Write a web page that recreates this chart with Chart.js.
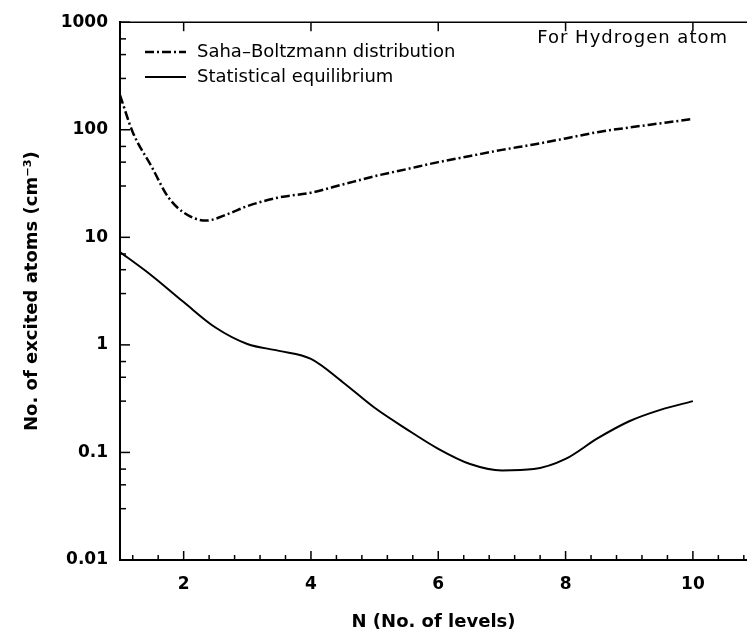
<!doctype html>
<html lang="en">
<head>
  <meta charset="utf-8">
  <title>Excited atoms vs level</title>
  <script src="https://cdn.jsdelivr.net/npm/chart.js"></script>
  <style>
    body { margin: 0; background: #fff; }
    #wrap { width: 747px; height: 637px; }
  </style>
</head>
<body>
  <div id="wrap"><canvas id="levels"></canvas></div>
<script>
  // ---------------- data ----------------
  const sahaN = [1, 1.2, 1.5, 1.75, 2, 2.35, 2.7, 3, 3.5, 4, 4.5, 5, 5.5, 6, 6.5, 7, 7.5, 8, 8.5, 9, 9.5, 10]
  const sahaValues = [210, 95, 45, 24, 17, 14.3, 16.5, 19.5, 23.5, 26, 31, 37, 43, 50, 57, 65, 73, 83, 95, 105, 115, 126]

  const statN = [1, 1.5, 2, 2.5, 3, 3.5, 4, 4.5, 5, 5.5, 6, 6.5, 7, 7.5, 8, 8.5, 9, 9.5, 10]
  const statValues = [7.3, 4.4, 2.5, 1.45, 1.02, 0.88, 0.74, 0.45, 0.26, 0.165, 0.108, 0.078, 0.068, 0.07, 0.087, 0.135, 0.195, 0.25, 0.3]

  const xTickLabels = ['2', '4', '6', '8', '10']
  const yTickLabels = ['0.01', '0.1', '1', '10', '100', '1000']
  const seriesNames = ['Saha\u2013Boltzmann distribution', 'Statistical equilibrium']
  const note = 'For Hydrogen atom'

  const FONT = '"DejaVu Sans", "Liberation Sans", sans-serif'

  const toPoints = (xs, ys) => xs.map((x, i) => ({ x: x, y: ys[i] }))

  // inward tick marks, top frame line, legend and note
  const decor = {
    id: 'decor',
    afterDraw(chart) {
      const ctx = chart.ctx
      const area = chart.chartArea
      const xs = chart.scales.x
      const ys = chart.scales.y
      ctx.save()
      ctx.strokeStyle = '#000'
      ctx.lineWidth = 1.5
      // top frame
      ctx.beginPath()
      ctx.moveTo(area.left, area.top)
      ctx.lineTo(area.right, area.top)
      ctx.stroke()
      // x ticks
      xs.ticks.forEach(t => {
        const px = xs.getPixelForValue(t.value)
        const major = t.label !== ''
        ctx.beginPath()
        ctx.moveTo(px, area.bottom)
        ctx.lineTo(px, area.bottom - (major ? 9 : 5))
        ctx.stroke()
        if (major) {
          ctx.beginPath()
          ctx.moveTo(px, area.top)
          ctx.lineTo(px, area.top + 9)
          ctx.stroke()
        }
      })
      // y ticks
      ys.ticks.forEach(t => {
        const py = ys.getPixelForValue(t.value)
        const major = t.label !== ''
        ctx.beginPath()
        ctx.moveTo(area.left, py)
        ctx.lineTo(area.left + (major ? 10 : 6), py)
        ctx.stroke()
      })
      // legend
      ctx.font = '18px ' + FONT
      ctx.fillStyle = '#000'
      ctx.textBaseline = 'middle'
      chart.data.datasets.forEach((ds, i) => {
        const y = 52 + i * 25
        ctx.save()
        ctx.lineWidth = ds.borderWidth
        ctx.setLineDash(ds.borderDash || [])
        ctx.beginPath()
        ctx.moveTo(145, y)
        ctx.lineTo(186, y)
        ctx.stroke()
        ctx.restore()
        ctx.fillText(ds.label, 197, y)
      })
      ctx.textAlign = 'right'
      ctx.letterSpacing = '1px'
      ctx.fillText(note, 728, 38)
      ctx.restore()
    }
  }

  new Chart(document.getElementById('levels'), {
    type: 'line',
    data: {
      datasets: [{
        label: seriesNames[0],
        data: toPoints(sahaN, sahaValues),
        borderColor: '#000',
        borderWidth: 2.5,
        borderDash: [9, 3, 2, 3],
        pointRadius: 0,
        cubicInterpolationMode: 'monotone',
        fill: false
      }, {
        label: seriesNames[1],
        data: toPoints(statN, statValues),
        borderColor: '#000',
        borderWidth: 2,
        pointRadius: 0,
        cubicInterpolationMode: 'monotone',
        fill: false
      }]
    },
    options: {
      responsive: true,
      maintainAspectRatio: false,
      animation: false,
      layout: { padding: { left: 0, right: 0, top: 20, bottom: 0 } },
      plugins: {
        legend: { display: false },
        tooltip: { enabled: false }
      },
      scales: {
        x: {
          type: 'linear',
          min: 1,
          max: 10.85,
          grid: { display: false, drawTicks: false },
          border: { display: true, color: '#000', width: 2 },
          afterBuildTicks: (scale) => {
            const ticks = []
            for (let k = 3; k * 0.4 <= 10.85; k++) {
              ticks.push({ value: Math.round(k * 4) / 10 })
            }
            scale.ticks = ticks
          },
          afterFit: (scale) => {
            scale.height = 77
            scale.paddingRight = 0
            scale.paddingLeft = 0
          },
          ticks: {
            autoSkip: false,
            maxRotation: 0,
            padding: 14,
            color: '#000',
            font: { family: FONT, size: 17, weight: 'bold' },
            callback: (v) => {
              const s = String(v)
              return xTickLabels.includes(s) ? s : ''
            }
          },
          title: {
            display: true,
            text: 'N (No. of levels)',
            color: '#000',
            font: { family: FONT, size: 18, weight: 'bold' },
            padding: { top: 0, bottom: 4 }
          }
        },
        y: {
          type: 'logarithmic',
          min: 0.01,
          max: 1000,
          grid: { display: false, drawTicks: false },
          border: { display: true, color: '#000', width: 2 },
          afterBuildTicks: (scale) => {
            const ticks = []
            yTickLabels.forEach((lab, i) => {
              const dec = parseFloat(lab)
              ticks.push({ value: dec })
              if (i < yTickLabels.length - 1) {
                [3, 5, 7].forEach(m => ticks.push({ value: parseFloat((m * dec).toPrecision(2)) }))
              }
            })
            scale.ticks = ticks
          },
          afterFit: (scale) => { scale.width = 120 },
          ticks: {
            autoSkip: false,
            padding: 12,
            color: '#000',
            font: { family: FONT, size: 17, weight: 'bold' },
            callback: (v) => {
              const s = String(v)
              return yTickLabels.includes(s) ? s : ''
            }
          },
          title: {
            display: true,
            text: 'No. of excited atoms (cm\u207B\u00B3)',
            color: '#000',
            font: { family: FONT, size: 18, weight: 'bold' },
            padding: { top: 22, bottom: 0 }
          }
        }
      }
    },
    plugins: [decor]
  })
</script>
</body>
</html>
